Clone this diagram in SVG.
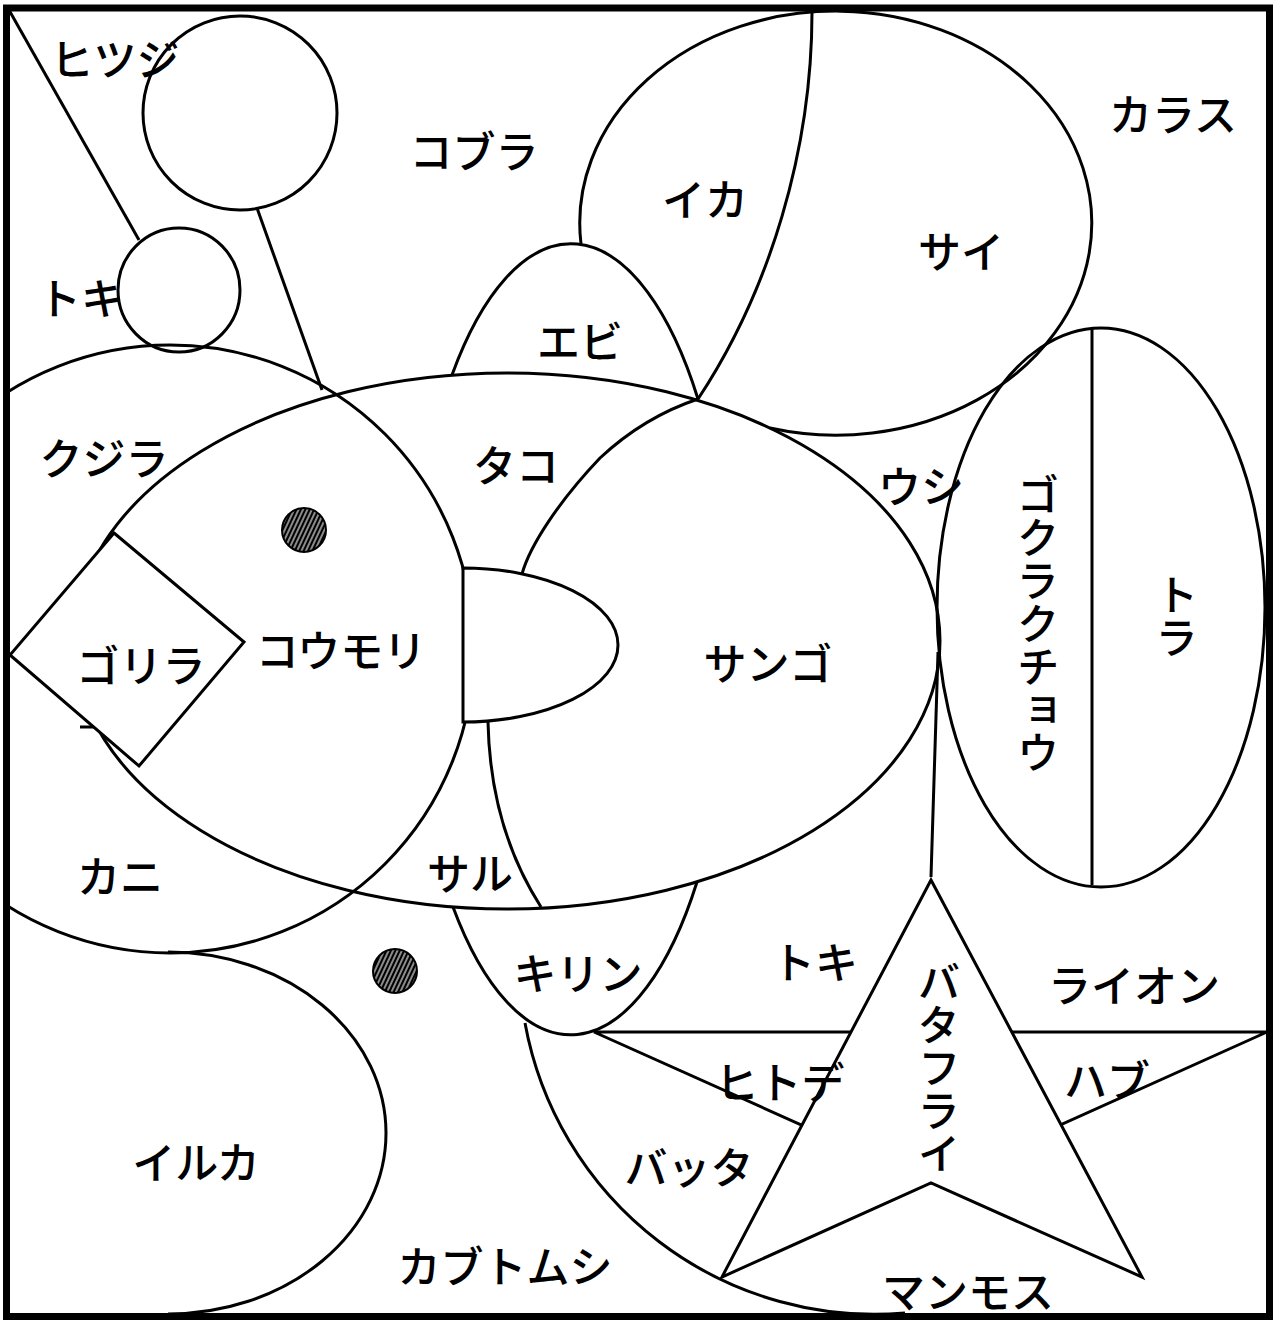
<svg xmlns="http://www.w3.org/2000/svg" width="1274" height="1320" viewBox="0 0 1274 1320">
<defs>
<style>
.s{fill:none;stroke:#000;stroke-width:3}
.w{fill:#fff;stroke:#000;stroke-width:3;stroke-linejoin:miter}
.t{font-family:"Noto Sans CJK JP","Noto Sans",sans-serif;font-size:43px;font-weight:500;fill:#000;text-anchor:middle;dominant-baseline:central}
.v{writing-mode:vertical-rl}
.h{fill:url(#hatch);stroke:#000;stroke-width:2}
</style>
<pattern id="hatch" width="4" height="4" patternUnits="userSpaceOnUse" patternTransform="rotate(25)">
<rect width="4" height="4" fill="#000"/>
<line x1="2" y1="0" x2="2" y2="4" stroke="#fff" stroke-width="1.1"/>
</pattern>
<clipPath id="frame"><rect x="6" y="8" width="1262" height="1308"/></clipPath>
</defs>
<rect width="1274" height="1320" fill="#fff"/>
<g id="shapes" clip-path="url(#frame)">
<g id="hitsuji-circle"><circle class="s" cx="240" cy="113" r="97"/></g>
<g id="toki-circle"><ellipse class="s" cx="179" cy="290" rx="61" ry="62"/></g>
<g id="kujira-circle"><circle class="s" cx="170" cy="649" r="304"/></g>
<g id="sai-ellipse"><path class="s" d="M581,244 A256,212 0 1 1 770,428"/></g>
<g id="ika-divider"><path class="s" d="M812,12 C812,150 770,290 698,399"/></g>
<g id="ebi-kirin"><path class="s" d="M452,375 A160,396 0 0 1 698,399"/><path class="s" d="M453,907 A160,396 0 0 0 697,882"/></g>
<g id="big-ellipse"><ellipse class="s" cx="507" cy="641" rx="433" ry="268"/></g>
<g id="sango-arcs"><path class="s" d="M522,574 C530,545 560,500 600,458 C630,430 665,410 698,399"/><path class="s" d="M488,722 C489,770 498,840 541,907"/></g>
<g id="half-d"><path class="w" d="M463,568 A155,77 0 0 1 463,722 Z"/></g>
<g id="mark"><line class="s" x1="80" y1="727" x2="104" y2="727"/></g>
<g id="gorilla-diamond"><polygon class="w" points="114,533 244,642 139,766 10,655"/></g>
<g id="gokuraku-ellipse"><ellipse class="s" cx="1101" cy="607.5" rx="164" ry="279.5"/><line class="s" x1="1092" y1="328" x2="1092" y2="885"/></g>
<g id="iruka-half"><path class="s" d="M168,952 A218,181 0 0 1 168,1314"/></g>
<g id="batta-arc"><path class="s" d="M525,1023 A355,355 0 0 0 905,1313"/></g>
<g id="hitode-triangle"><polygon class="s" points="594,1032 1267,1032 931,1183"/></g>
<g id="butterfly-star"><polygon class="w" points="931,880 1142,1277 931,1183 722,1277"/></g>
<g id="dots"><circle class="h" cx="304" cy="530" r="22"/><circle class="h" cx="395" cy="971" r="22"/></g>
</g>
<g id="connectors">
<line class="s" x1="9" y1="10" x2="139" y2="240"/>
<line class="s" x1="257" y1="208" x2="322" y2="390"/>
<line class="s" x1="938" y1="652" x2="931" y2="877"/>
</g>
<rect id="frame-border" x="6.5" y="8" width="1263" height="1308.5" fill="none" stroke="#000" stroke-width="7"/>
<g id="labels" class="t">
<text x="115" y="57">ヒツジ</text>
<text x="474" y="149">コブラ</text>
<text x="705" y="197">イカ</text>
<text x="1173" y="112">カラス</text>
<text x="961" y="249">サイ</text>
<text x="81" y="296">トキ</text>
<text x="580" y="339">エビ</text>
<text x="104" y="456">クジラ</text>
<text x="516" y="463">タコ</text>
<text x="921" y="484">ウシ</text>
<text x="141" y="663">ゴリラ</text>
<text x="341" y="648">コウモリ</text>
<text x="768" y="661">サンゴ</text>
<text x="120" y="874">カニ</text>
<text x="470" y="871">サル</text>
<text x="578" y="971">キリン</text>
<text x="815" y="960">トキ</text>
<text x="1134" y="983">ライオン</text>
<text x="780" y="1080">ヒトデ</text>
<text x="1107" y="1078">ハブ</text>
<text x="689" y="1165">バッタ</text>
<text x="196" y="1160">イルカ</text>
<text x="505" y="1264">カブトムシ</text>
<text x="968" y="1289">マンモス</text>
<text class="v" x="1038" y="624">ゴクラクチョウ</text>
<text class="v" x="1177" y="616">トラ</text>
<text class="v" x="939" y="1068">バタフライ</text>
</g>
</svg>
